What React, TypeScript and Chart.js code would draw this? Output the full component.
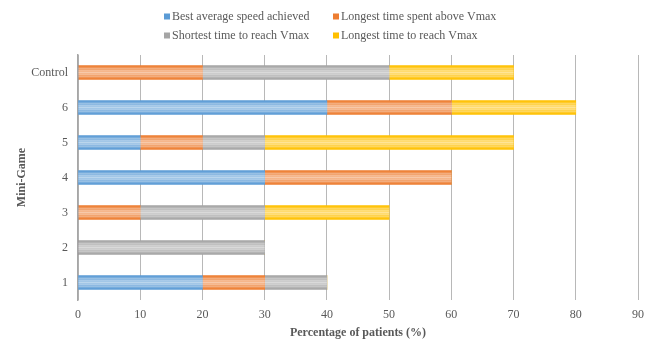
import React, { useEffect, useRef } from "react";
import { Chart, registerables } from "chart.js";

Chart.register(...registerables);

const categories = ["Control", "6", "5", "4", "3", "2", "1"];
const seriesNames = [
  "Best average speed achieved",
  "Longest time spent above Vmax",
  "Shortest time to reach Vmax",
  "Longest time to reach Vmax",
];
const bestAverageSpeed = [0, 40, 10, 30, 0, 0, 20];
const longestAboveVmax = [20, 20, 10, 30, 10, 0, 10];
const shortestToVmax = [30, 0, 10, 0, 20, 30, 10];
const longestToVmax = [20, 20, 40, 0, 20, 0, 0];
const seriesColors = ["#5B9BD5", "#ED7D31", "#A5A5A5", "#FFC000"];
const xMin = 0;
const xMax = 90;
const xStep = 10;
const xTitle = "Percentage of patients (%)";
const yTitle = "Mini-Game";

const FONT = '"Liberation Serif", "Times New Roman", serif';
const TEXT = "#595959";

const barShine = {
  id: "barShine",
  afterDatasetsDraw(chart: any) {
    const ctx = chart.ctx;
    chart.data.datasets.forEach((_ds: any, di: number) => {
      const meta = chart.getDatasetMeta(di);
      if (meta.hidden) return;
      meta.data.forEach((el: any) => {
        const p = el.getProps(["x", "y", "base", "height"], true);
        const left = Math.min(p.x, p.base);
        const right = Math.max(p.x, p.base);
        const w = right - left;
        if (w < 1) return;
        const top = p.y - p.height / 2;
        const h = p.height;
        ctx.save();
        const g = ctx.createLinearGradient(0, top, 0, top + h);
        g.addColorStop(0, "rgba(255,255,255,0)");
        g.addColorStop(0.12, "rgba(255,255,255,0.15)");
        g.addColorStop(0.5, "rgba(255,255,255,0.5)");
        g.addColorStop(0.88, "rgba(255,255,255,0.15)");
        g.addColorStop(1, "rgba(255,255,255,0)");
        ctx.fillStyle = g;
        ctx.fillRect(left, top + 1, w, h - 2);
        ctx.fillStyle = "rgba(255,255,255,0.18)";
        for (let yy = Math.round(top) + 2; yy < top + h - 2; yy += 2) {
          ctx.fillRect(left, yy, w, 1);
        }
        ctx.restore();
      });
    });
  },
};

const gridLegend = {
  id: "gridLegend",
  afterDraw(chart: any) {
    const ctx = chart.ctx;
    const colX = [164, 333];
    const rowY = [16.5, 35.5];
    ctx.save();
    ctx.font = `12px ${FONT}`;
    ctx.textBaseline = "middle";
    ctx.textAlign = "left";
    chart.data.datasets.forEach((ds: any, i: number) => {
      const x = colX[i % 2];
      const y = rowY[Math.floor(i / 2)];
      ctx.fillStyle = ds.backgroundColor;
      ctx.fillRect(x, y - 3, 6, 6);
      ctx.fillStyle = TEXT;
      ctx.fillText(ds.label, x + 8, y);
    });
    ctx.restore();
  },
};

export default function App() {
  const ref = useRef<HTMLCanvasElement | null>(null);

  useEffect(() => {
    if (!ref.current) return;
    Chart.defaults.font.family = FONT;
    const values = [bestAverageSpeed, longestAboveVmax, shortestToVmax, longestToVmax];
    const chart = new Chart(ref.current, {
      type: "bar",
      data: {
        labels: categories,
        datasets: seriesNames.map((name, i) => ({
          label: name,
          data: values[i],
          backgroundColor: seriesColors[i],
          borderWidth: 0,
          barThickness: 14,
        })),
      },
      options: {
        indexAxis: "y",
        responsive: false,
        animation: false,
        layout: { padding: { top: 55, right: 29, bottom: 0, left: 0 } },
        plugins: {
          legend: { display: false },
          tooltip: { enabled: false },
        },
        scales: {
          x: {
            stacked: true,
            min: xMin,
            max: xMax,
            ticks: {
              stepSize: xStep,
              color: TEXT,
              font: { size: 12, family: FONT },
              padding: 8,
            },
            grid: { color: "#B8B8B8", lineWidth: 1, drawTicks: false },
            border: { display: false },
            title: {
              display: true,
              text: xTitle,
              color: TEXT,
              font: { size: 12, weight: "bold", family: FONT },
              padding: { top: 0, bottom: 0 },
            },
            afterFit(scale: any) {
              scale.height = 40;
            },
          },
          y: {
            stacked: true,
            ticks: {
              color: TEXT,
              font: { size: 12, family: FONT },
              padding: 10,
            },
            grid: { display: false, drawTicks: false },
            border: { display: true, color: "#A6A6A6", width: 1.5 },
            title: {
              display: true,
              text: yTitle,
              color: TEXT,
              font: { size: 12, weight: "bold", family: FONT },
              padding: { top: 15, bottom: 0 },
            },
            afterFit(scale: any) {
              scale.width = 78;
            },
          },
        },
      },
      plugins: [barShine, gridLegend],
    } as any);
    return () => chart.destroy();
  }, []);

  return (
    <div style={{ position: "absolute", left: 0, top: 0, width: 667, height: 340, background: "#fff" }}>
      <canvas ref={ref} width={667} height={340} style={{ display: "block" }} />
    </div>
  );
}
